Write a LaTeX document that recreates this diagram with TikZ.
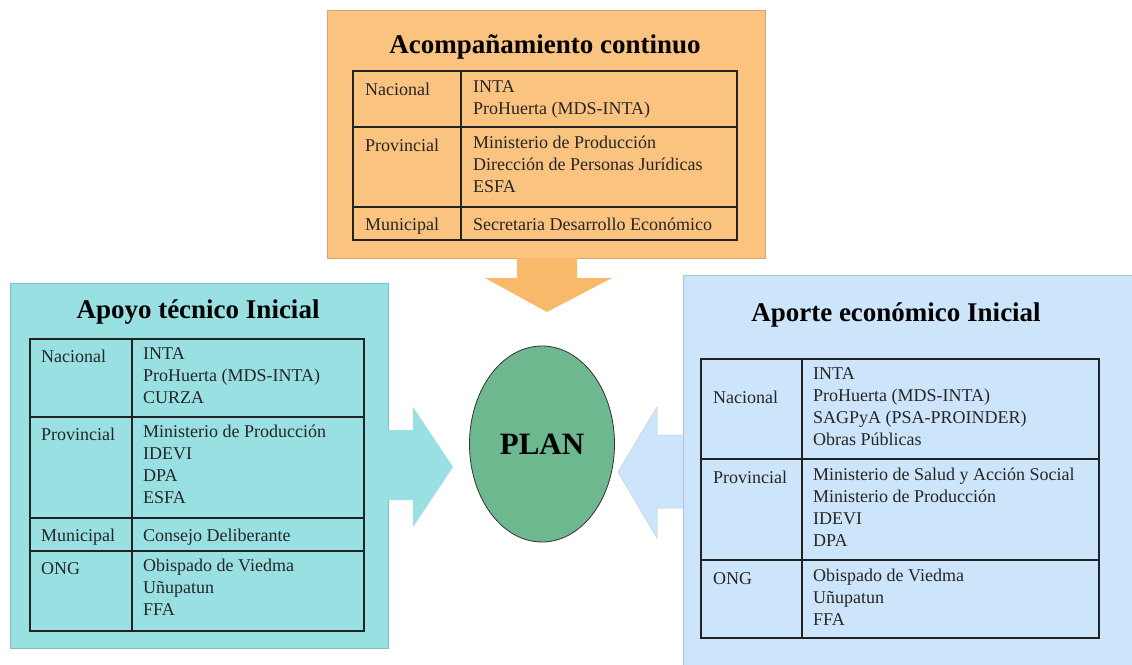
\documentclass[tikz,border=0pt]{standalone}
\usepackage{fontspec}
\setmainfont{Liberation Serif}
\usetikzlibrary{shapes.geometric}
\definecolor{orangebox}{HTML}{FAC37F}
\definecolor{orangearrow}{HTML}{F9B96B}
\definecolor{tealbox}{HTML}{99E0E3}
\definecolor{bluebox}{HTML}{CCE5FA}
\definecolor{plangreen}{HTML}{6DB88E}
\definecolor{gridline}{HTML}{222222}

\begin{document}
\begin{tikzpicture}[x=1pt, y=-1pt,
    title/.style={font=\fontsize{27}{32}\selectfont\bfseries, anchor=base},
    cell/.style={font=\fontsize{18}{22}\selectfont, anchor=north west, align=left,
                 inner sep=0pt, yshift=15pt, text=black!85,
                 execute at begin node=\rule{0pt}{15pt}},
    grid/.style={draw=gridline, line width=1.4pt}]
    \useasboundingbox (0,0) rectangle (1132,664);

    % Boxes
    \fill[orangebox, draw=orangebox!85!black, line width=0.8pt] (327,10) rectangle (765,258);
    \fill[tealbox, draw=tealbox!85!black, line width=0.8pt] (10,283) rectangle (388,648);
    \fill[bluebox, draw=bluebox!85!black, line width=0.8pt] (683,275) rectangle (1140,670);

    % Arrows
    \fill[orangearrow] (517,258) -- (577,258) -- (577,278) -- (612,278) -- (547,312)
        -- (485,278) -- (517,278) -- cycle;
    \fill[tealbox] (388,430) -- (413,430) -- (413,407) -- (453,467) -- (413,527)
        -- (413,500) -- (388,500) -- cycle;
    \fill[bluebox, draw=bluebox!90!black, line width=0.5pt] (683,435) -- (657,435) -- (657,407)
        -- (618,472) -- (657,538) -- (657,508) -- (683,508);

    % Plan
    \node[ellipse, draw=black!80, line width=0.8pt, fill=plangreen, minimum width=145pt,
          minimum height=196pt, inner sep=0pt, font=\fontsize{31}{36}\selectfont\bfseries]
          (plan) at (542,444) {PLAN};

    % Acompanamiento continuo
    \node[title] (acTitle) at (545,53) {Acompañamiento continuo};
    \draw[grid] (353,71) rectangle (737,240);
    \draw[grid] (461,71) -- (461,240);
    \draw[grid] (353,127) -- (737,127) (353,207) -- (737,207);
    \node[cell] (acNac) at (365,95) {Nacional};
    \node[cell] (acNacList) at (473,95) {INTA\\ProHuerta (MDS-INTA)};
    \node[cell] (acProv) at (365,151) {Provincial};
    \node[cell] (acProvList) at (473,151) {Ministerio de Producción\\Dirección de Personas Jurídicas\\ESFA};
    \node[cell] (acMun) at (365,230) {Municipal};
    \node[cell] (acMunList) at (473,230) {Secretaria Desarrollo Económico};

    % Apoyo tecnico Inicial
    \node[title] (apTitle) at (198,318) {Apoyo técnico Inicial};
    \draw[grid] (30,339) rectangle (364,631);
    \draw[grid] (132,339) -- (132,631);
    \draw[grid] (30,417) -- (364,417) (30,518) -- (364,518) (30,551) -- (364,551);
    \node[cell] (apNac) at (41,362) {Nacional};
    \node[cell] (apNacList) at (143,362) {INTA\\ProHuerta (MDS-INTA)\\CURZA};
    \node[cell] (apProv) at (41,440) {Provincial};
    \node[cell] (apProvList) at (143,440) {Ministerio de Producción\\IDEVI\\DPA\\ESFA};
    \node[cell] (apMun) at (41,541) {Municipal};
    \node[cell] (apMunList) at (143,541) {Consejo Deliberante};
    \node[cell] (apOng) at (41,574) {ONG};
    \node[cell] (apOngList) at (143,574) {Obispado de Viedma\\Uñupatun\\FFA};

    % Aporte economico Inicial
    \node[title] (aeTitle) at (896,321) {Aporte económico Inicial};
    \draw[grid] (701,359) rectangle (1099,638);
    \draw[grid] (802,359) -- (802,638);
    \draw[grid] (701,459) -- (1099,459) (701,560) -- (1099,560);
    \node[cell] (aeNac) at (713,403) {Nacional};
    \node[cell] (aeNacList) at (813,382) {INTA\\ProHuerta (MDS-INTA)\\SAGPyA (PSA-PROINDER)\\Obras Públicas};
    \node[cell] (aeProv) at (713,483) {Provincial};
    \node[cell] (aeProvList) at (813,483) {Ministerio de Salud y Acción Social\\Ministerio de Producción\\IDEVI\\DPA};
    \node[cell] (aeOng) at (713,584) {ONG};
    \node[cell] (aeOngList) at (813,584) {Obispado de Viedma\\Uñupatun\\FFA};
\end{tikzpicture}
\end{document}
